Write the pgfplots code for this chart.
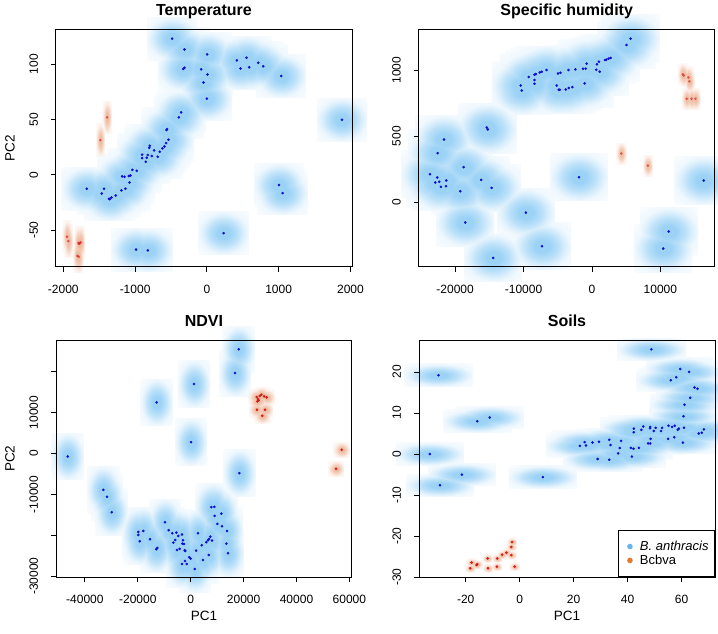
\documentclass[border=0pt]{standalone}
\usepackage{pgfplots}
\usepackage{pgfplotstable}
\pgfplotsset{compat=1.18}
\usepackage{fontspec}
\setmainfont{Liberation Sans}

\definecolor{bcore}{RGB}{155,210,246}
\colorlet{bc1}{bcore!68!white}
\colorlet{bc2}{bcore!36!white}
\colorlet{bc3}{bcore!15!white}
\colorlet{bc4}{bcore!6!white}
\definecolor{ocore}{RGB}{240,188,162}
\colorlet{oc1}{ocore!68!white}
\colorlet{oc2}{ocore!36!white}
\colorlet{oc3}{ocore!15!white}
\colorlet{oc4}{ocore!6!white}
\definecolor{ptblue}{RGB}{15,15,205}
\definecolor{ptred}{RGB}{215,25,25}
\definecolor{legblue}{RGB}{105,180,238}
\definecolor{legorange}{RGB}{228,122,50}

\pgfdeclareradialshading{bshade}{\pgfpoint{0bp}{0bp}}{color(0bp)=(bcore); color(6bp)=(bcore); color(14bp)=(bc1); color(20bp)=(bc2); color(25bp)=(bc3); color(36bp)=(bc4)}
\pgfdeclareradialshading{oshade}{\pgfpoint{0bp}{0bp}}{color(0bp)=(ocore); color(6bp)=(ocore); color(14bp)=(oc1); color(20bp)=(oc2); color(25bp)=(oc3); color(36bp)=(oc4)}

\pgfdeclareplotmark{blobB}{%
  \pgfpathrectangle{\pgfpoint{-\pgfplotmarksize}{-\pgfplotmarksize}}{\pgfpoint{2\pgfplotmarksize}{2\pgfplotmarksize}}%
  \pgfshadepath{bshade}{0}\pgfusepath{}}
\pgfdeclareplotmark{blobO}{%
  \pgfpathrectangle{\pgfpoint{-\pgfplotmarksize}{-\pgfplotmarksize}}{\pgfpoint{2\pgfplotmarksize}{2\pgfplotmarksize}}%
  \pgfshadepath{oshade}{0}\pgfusepath{}}

\pgfplotsset{
  panel/.style={
    scale only axis, width=296pt, height=237pt, anchor=south west,
    axis on top, tick align=outside, xtick pos=left, ytick pos=left,
    scaled ticks=false,
    major tick length=5pt,
    every tick/.style={black, line width=0.8pt},
    axis line style={line width=1pt},
    tick label style={font=\fontsize{12}{14}\selectfont},
    xticklabel style={yshift=-9.5pt},
    yticklabel style={xshift=-9.5pt, rotate=90, anchor=south},
    title style={font=\bfseries\fontsize{16}{18}\selectfont, at={(axis description cs:0.5,1.033)}, anchor=base},
    xlabel style={font=\fontsize{13.5}{15}\selectfont, at={(axis description cs:0.5,-0.182)}, anchor=base},
    ylabel style={font=\fontsize{13.5}{15}\selectfont, at={(axis description cs:-0.127,0.5)}, anchor=south},
  },
  bblob/.style={forget plot, only marks, mark=blobB, blend mode=darken, mark options={blend mode=darken}},
  oblob/.style={forget plot, only marks, mark=blobO, blend mode=darken, mark options={blend mode=darken}},
  bpts/.style={forget plot, only marks, mark=*, mark size=1.1pt, color=ptblue},
  rpts/.style={forget plot, only marks, mark=*, mark size=1.1pt, color=ptred},
}

% ---------------- Temperature ----------------
\pgfplotstableread{
x y
-484 122.9
-312 113.2
4 108.7
-330 95.5
-312 96.7
-79 95.2
9 90.6
-47 83.4
0 68.7
418 103.3
553 105.7
469 96
590 97
716 101.2
785 97.9
1036 89.2
1883 49.7
-358 56.3
-391 51.8
-554 41.3
-563 40.4
-535 31.6
-568 28.6
-591 25.6
-619 23.8
-656 20.8
-684 16.3
-795 26.2
-804 24.4
-735 22
-823 17.8
-767 16.9
-902 18.1
-902 15.1
-837 15.4
-851 11.7
-1038 4.5
-976 3.6
-1181 -1.5
-1149 -1.8
-1088 -1.2
-1065 -0.6
-1078 -6.9
-1135 -12.6
-1190 -14.1
-1269 -18.7
-1330 -20.5
-1363 -21.7
-1353 -22
-1432 -12.6
-1464 -16.9
-1674 -12.6
-986 -67.5
-823 -68.3
232 -52.7
1055 -16.5
1005 -9.3
}\Tblue
\pgfplotstableread{
x y
-1390 51.8
-1484 31.3
-1948 -56
-1930 -59.9
-1790 -61.5
-1770 -62
-1760 -61
-1780 -62.5
-1805 -73.2
-1785 -74
}\Tred

% ---------------- Specific humidity ----------------
\pgfplotstableread{
x y
5647 1237
5064 1189
-10404 883
-10258 845
-9237 947
-8405 964
-8215 969
-7632 982
-7340 987
-6654 1000
-8405 924
-8405 896
-4961 974
-4611 979
-3444 1000
-2422 1005
-1313 1010
-919 1010
-773 1048
642 1002
1124 987
730 1043
1021 1063
1897 1076
2101 1078
2437 1086
2729 1091
-5151 883
-4859 851
-4713 851
-3838 853
-3400 864
-2860 871
-1065 899
-21640 474
-22560 371
-15366 565
-15220 550
-18770 265
-23685 212
-22618 187
-22910 149
-22326 154
-22078 116
-21348 121
-21305 164
-19262 83
-16198 169
-14680 108
-1897 189
16343 164
-18532 -154
-9675 -79
-7296 -333
-14446 -422
11236 -222
10418 -351
}\Hblue
\pgfplotstableread{
x y
13279 967
13425 959
14111 944
14257 914
13863 783
14549 783
15132 783
4290 368
8172 277
}\Hred

% ---------------- NDVI ----------------
\pgfplotstableread{
x y
18147 25490
16761 19690
1260 16993
-12854 12500
126 2778
-46503 -735
18400 -4820
-33043 -8897
-31645 -10613
-29868 -14363
-19811 -19191
-19811 -19926
-17921 -18946
-19282 -21471
-15388 -20980
-13006 -23431
-12628 -23105
-9716 -16814
-8330 -18774
-5444 -19363
-6956 -19526
-4688 -20172
-5822 -21152
-6578 -21814
-3289 -19844
-2911 -21236
-3163 -22052
-2533 -22135
-5192 -23603
-4184 -23358
-2281 -23685
-2029 -23848
-529 -25392
-25 -25719
-2155 -26299
-3289 -27034
-1525 -27034
1512 -28260
2016 -23766
2772 -19510
4158 -22452
4662 -26054
6805 -24828
5923 -21716
6553 -21226
6931 -20900
7435 -20327
8065 -21308
7813 -13137
8947 -13055
9073 -15270
11594 -14698
10081 -17230
11846 -17802
13736 -18946
13484 -22059
14114 -24412
}\Nblue
\pgfplotstableread{
x y
24953 13807
25457 13317
25205 12745
26087 14052
26717 14379
27725 13971
28734 13725
25709 12990
25079 10703
28103 10703
27095 9232
57089 899
54947 -3758
}\Nred

% ---------------- Soils ----------------
\pgfplotstableread{
x y
48.8 25.5
-30.1 19.2
-15.7 8.0
-11.1 8.9
-33.3 0
-21.4 -5.0
-29.5 -7.6
8.6 -5.6
59.5 20.7
62.8 20.0
58.0 18.7
56.0 18.0
64.8 16.2
65.9 15.9
63.2 13.7
61.1 12.0
60.7 9.2
60.9 6.4
57.5 6.9
59.0 6.2
58.6 5.9
56.5 6.6
55.2 6.9
52.8 6.4
52.4 5.6
50.4 6.4
49.7 5.6
48.4 6.6
48.3 6.3
45.8 6.7
45.1 5.9
42.3 6.2
42.3 5.3
37.6 3.2
37.1 1.5
36.5 0.15
41.2 1.5
42.2 1.3
41.6 -0.6
44.2 1.5
47.6 2.6
48.4 2.6
48.5 3.7
55.0 3.7
57.3 4.1
60.5 2.8
66.4 5.0
67.5 5.2
68.3 6.0
33.2 3.5
33.7 2.2
29.4 3.0
27.0 2.8
24.1 2.9
24.6 2.1
22.3 2.0
28.9 -1.2
33.2 -1.4
}\Sblue
\pgfplotstableread{
x y
-2.8 -21.4
-3.1 -22.6
-3.1 -24.6
-4.9 -24.0
-6.5 -24.5
-8.3 -25.4
-11.9 -25.4
-8.4 -27.4
-11.7 -27.8
-15.7 -26.8
-16.0 -27.0
-17.8 -26.4
-18.3 -27.8
-1.9 -27.4
}\Sred

\begin{document}
\begin{tikzpicture}
\path[use as bounding box] (0pt,0pt) rectangle (718pt,634pt);

% Temperature
\begin{axis}[panel, at={(56pt,367.3pt)}, title={Temperature}, ylabel={PC2},
  xmin=-2102, xmax=2022, ymin=-83, ymax=131,
  xtick={-2000,-1000,0,1000,2000}, xticklabels={-2000,-1000,0,1000,2000},
  ytick={-50,0,50,100}, yticklabels={-50,0,50,100}]
\addplot[bblob, mark size=25pt, mark options={yscale=0.86}] table {\Tblue};
\addplot[oblob, mark size=4.5pt, mark options={yscale=3.6}] table {\Tred};
\addplot[rpts, opacity=0.55] table {\Tred};
\addplot[bpts] table {\Tblue};
\end{axis}

% Specific humidity
\begin{axis}[panel, at={(418.7pt,367.3pt)}, title={Specific humidity},
  xmin=-25332, xmax=17948, ymin=-488, ymax=1305,
  xtick={-20000,-10000,0,10000}, xticklabels={-20000,-10000,0,10000},
  ytick={0,500,1000}, yticklabels={0,500,1000}]
\addplot[bblob, mark size=29pt, mark options={yscale=0.82}] table {\Hblue};
\addplot[oblob, mark size=5pt, mark options={yscale=2.1}] table {\Hred};
\addplot[rpts, opacity=0.5] table {\Hred};
\addplot[bpts] table {\Hblue};
\end{axis}

% NDVI
\begin{axis}[panel, at={(56pt,56.7pt)}, title={NDVI}, xlabel={PC1}, ylabel={PC2},
  xmin=-50926, xmax=60983, ymin=-30294, ymax=27696,
  xtick={-40000,-20000,0,20000,40000,60000}, xticklabels={-40000,-20000,0,20000,40000,60000},
  ytick={-30000,-20000,-10000,0,10000,20000}, yticklabels={-30000,,-10000,0,10000,}]
\addplot[bblob, mark size=16pt, mark options={yscale=1.45}] table {\Nblue};
\addplot[oblob, mark size=8pt, mark options={yscale=0.95}] table {\Nred};
\addplot[rpts] table {\Nred};
\addplot[bpts] table {\Nblue};
\end{axis}

% Soils
\begin{axis}[panel, at={(419pt,56.7pt)}, title={Soils}, xlabel={PC1},
  xmin=-37.3, xmax=72.4, ymin=-30, ymax=27.7,
  xtick={-20,0,20,40,60}, xticklabels={-20,0,20,40,60},
  ytick={-30,-20,-10,0,10,20}, yticklabels={-30,-20,-10,0,10,20},
  legend style={at={(1,0)}, anchor=south east, draw=black, line width=0.8pt,
    font=\fontsize{13}{15}\selectfont, fill=white, inner xsep=4pt, inner ysep=9pt, row sep=-1pt},
  legend image code/.code={\path[draw=none] (0pt,0pt) -- (16pt,0pt); \fill[draw=none] (8pt,0pt) circle (2.8pt);},
  legend cell align=left]
\addplot[bblob, mark size=34pt, mark options={yscale=0.33}] table {\Sblue};
\addplot[oblob, mark size=5pt, mark options={yscale=0.8}] table {\Sred};
\addplot[rpts] table {\Sred};
\addplot[bpts] table {\Sblue};
\addlegendimage{color=legblue}
\addlegendentry{\textit{B. anthracis}}
\addlegendimage{color=legorange}
\addlegendentry{Bcbva}
\end{axis}
\end{tikzpicture}
\end{document}
